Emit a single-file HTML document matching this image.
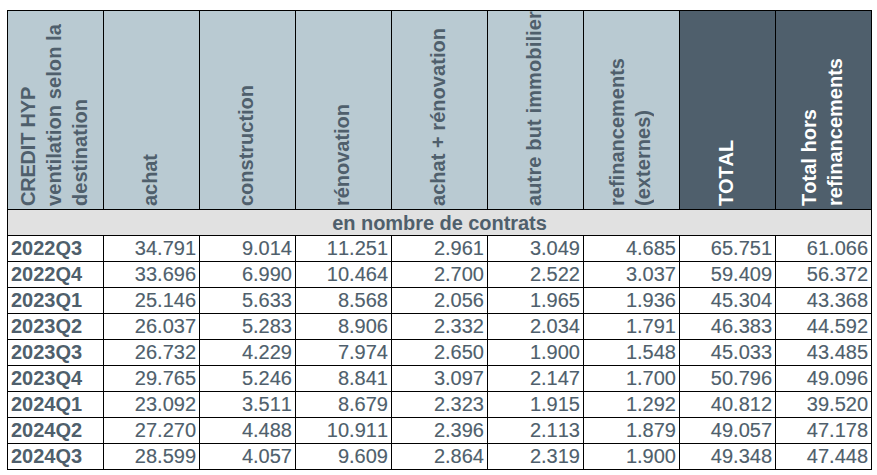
<!DOCTYPE html>
<html><head><meta charset="utf-8"><title>t</title>
<style>
html,body{margin:0;padding:0;background:#fff;}
body{width:877px;height:475px;position:relative;overflow:hidden;font-family:"Liberation Sans",sans-serif;font-size:20px;color:#4f5f6c;font-kerning:none;font-variant-ligatures:none;font-feature-settings:"kern" 0,"liga" 0;}
.c{position:absolute;box-sizing:border-box;border:1px solid #000;background:#fff;overflow:hidden;white-space:nowrap;}
.h{background:#b9cad2;display:flex;justify-content:center;align-items:flex-end;font-weight:bold;}
.h.d{background:#4f5f6c;color:#fff;}
.h span{display:block;writing-mode:vertical-rl;transform:rotate(180deg);line-height:26px;margin-bottom:3px;position:relative;left:-2px;}
i{font-style:normal;}
.s{background:#e1e1e1;font-weight:bold;text-align:center;line-height:26px;letter-spacing:-0.05px;}
.r{text-align:right;padding-right:3px;line-height:25px;-webkit-text-stroke:0.15px #4f5f6c;}
.l{text-align:left;padding-left:3px;line-height:25px;font-weight:bold;}
</style></head><body>
<div class="c h" style="left:7px;top:10px;width:97px;height:200px"><span><i style="letter-spacing:-0.212px">CREDIT HYP</i><br><i style="letter-spacing:0.098px">ventilation selon la</i><br><i style="letter-spacing:0.030px">destination</i></span></div>
<div class="c h" style="left:103px;top:10px;width:97px;height:200px"><span><i style="letter-spacing:-0.049px">achat</i></span></div>
<div class="c h" style="left:199px;top:10px;width:97px;height:200px"><span><i style="letter-spacing:-0.009px">construction</i></span></div>
<div class="c h" style="left:295px;top:10px;width:97px;height:200px"><span><i style="letter-spacing:-0.024px">rénovation</i></span></div>
<div class="c h" style="left:391px;top:10px;width:97px;height:200px"><span><i style="letter-spacing:0.040px">achat + rénovation</i></span></div>
<div class="c h" style="left:487px;top:10px;width:97px;height:200px"><span><i style="letter-spacing:0.138px">autre but immobilier</i></span></div>
<div class="c h" style="left:583px;top:10px;width:97px;height:200px"><span><i style="letter-spacing:0.012px">refinancements</i><br><i style="letter-spacing:0.040px">(externes)</i></span></div>
<div class="c h d" style="left:679px;top:10px;width:97px;height:200px"><span><i style="letter-spacing:-0.130px">TOTAL</i></span></div>
<div class="c h d" style="left:775px;top:10px;width:97px;height:200px"><span><i style="letter-spacing:0.033px">Total hors</i><br><i style="letter-spacing:0.012px">refinancements</i></span></div>
<div class="c s" style="left:7px;top:209px;width:865px;height:27px">en nombre de contrats</div>
<div class="c l" style="left:7px;top:235px;width:97px;height:27px">2022Q3</div>
<div class="c r" style="left:103px;top:235px;width:97px;height:27px">34.791</div>
<div class="c r" style="left:199px;top:235px;width:97px;height:27px">9.014</div>
<div class="c r" style="left:295px;top:235px;width:97px;height:27px">11.251</div>
<div class="c r" style="left:391px;top:235px;width:97px;height:27px">2.961</div>
<div class="c r" style="left:487px;top:235px;width:97px;height:27px">3.049</div>
<div class="c r" style="left:583px;top:235px;width:97px;height:27px">4.685</div>
<div class="c r" style="left:679px;top:235px;width:97px;height:27px">65.751</div>
<div class="c r" style="left:775px;top:235px;width:97px;height:27px">61.066</div>
<div class="c l" style="left:7px;top:261px;width:97px;height:27px">2022Q4</div>
<div class="c r" style="left:103px;top:261px;width:97px;height:27px">33.696</div>
<div class="c r" style="left:199px;top:261px;width:97px;height:27px">6.990</div>
<div class="c r" style="left:295px;top:261px;width:97px;height:27px">10.464</div>
<div class="c r" style="left:391px;top:261px;width:97px;height:27px">2.700</div>
<div class="c r" style="left:487px;top:261px;width:97px;height:27px">2.522</div>
<div class="c r" style="left:583px;top:261px;width:97px;height:27px">3.037</div>
<div class="c r" style="left:679px;top:261px;width:97px;height:27px">59.409</div>
<div class="c r" style="left:775px;top:261px;width:97px;height:27px">56.372</div>
<div class="c l" style="left:7px;top:287px;width:97px;height:27px">2023Q1</div>
<div class="c r" style="left:103px;top:287px;width:97px;height:27px">25.146</div>
<div class="c r" style="left:199px;top:287px;width:97px;height:27px">5.633</div>
<div class="c r" style="left:295px;top:287px;width:97px;height:27px">8.568</div>
<div class="c r" style="left:391px;top:287px;width:97px;height:27px">2.056</div>
<div class="c r" style="left:487px;top:287px;width:97px;height:27px">1.965</div>
<div class="c r" style="left:583px;top:287px;width:97px;height:27px">1.936</div>
<div class="c r" style="left:679px;top:287px;width:97px;height:27px">45.304</div>
<div class="c r" style="left:775px;top:287px;width:97px;height:27px">43.368</div>
<div class="c l" style="left:7px;top:313px;width:97px;height:27px">2023Q2</div>
<div class="c r" style="left:103px;top:313px;width:97px;height:27px">26.037</div>
<div class="c r" style="left:199px;top:313px;width:97px;height:27px">5.283</div>
<div class="c r" style="left:295px;top:313px;width:97px;height:27px">8.906</div>
<div class="c r" style="left:391px;top:313px;width:97px;height:27px">2.332</div>
<div class="c r" style="left:487px;top:313px;width:97px;height:27px">2.034</div>
<div class="c r" style="left:583px;top:313px;width:97px;height:27px">1.791</div>
<div class="c r" style="left:679px;top:313px;width:97px;height:27px">46.383</div>
<div class="c r" style="left:775px;top:313px;width:97px;height:27px">44.592</div>
<div class="c l" style="left:7px;top:339px;width:97px;height:27px">2023Q3</div>
<div class="c r" style="left:103px;top:339px;width:97px;height:27px">26.732</div>
<div class="c r" style="left:199px;top:339px;width:97px;height:27px">4.229</div>
<div class="c r" style="left:295px;top:339px;width:97px;height:27px">7.974</div>
<div class="c r" style="left:391px;top:339px;width:97px;height:27px">2.650</div>
<div class="c r" style="left:487px;top:339px;width:97px;height:27px">1.900</div>
<div class="c r" style="left:583px;top:339px;width:97px;height:27px">1.548</div>
<div class="c r" style="left:679px;top:339px;width:97px;height:27px">45.033</div>
<div class="c r" style="left:775px;top:339px;width:97px;height:27px">43.485</div>
<div class="c l" style="left:7px;top:365px;width:97px;height:27px">2023Q4</div>
<div class="c r" style="left:103px;top:365px;width:97px;height:27px">29.765</div>
<div class="c r" style="left:199px;top:365px;width:97px;height:27px">5.246</div>
<div class="c r" style="left:295px;top:365px;width:97px;height:27px">8.841</div>
<div class="c r" style="left:391px;top:365px;width:97px;height:27px">3.097</div>
<div class="c r" style="left:487px;top:365px;width:97px;height:27px">2.147</div>
<div class="c r" style="left:583px;top:365px;width:97px;height:27px">1.700</div>
<div class="c r" style="left:679px;top:365px;width:97px;height:27px">50.796</div>
<div class="c r" style="left:775px;top:365px;width:97px;height:27px">49.096</div>
<div class="c l" style="left:7px;top:391px;width:97px;height:27px">2024Q1</div>
<div class="c r" style="left:103px;top:391px;width:97px;height:27px">23.092</div>
<div class="c r" style="left:199px;top:391px;width:97px;height:27px">3.511</div>
<div class="c r" style="left:295px;top:391px;width:97px;height:27px">8.679</div>
<div class="c r" style="left:391px;top:391px;width:97px;height:27px">2.323</div>
<div class="c r" style="left:487px;top:391px;width:97px;height:27px">1.915</div>
<div class="c r" style="left:583px;top:391px;width:97px;height:27px">1.292</div>
<div class="c r" style="left:679px;top:391px;width:97px;height:27px">40.812</div>
<div class="c r" style="left:775px;top:391px;width:97px;height:27px">39.520</div>
<div class="c l" style="left:7px;top:417px;width:97px;height:27px">2024Q2</div>
<div class="c r" style="left:103px;top:417px;width:97px;height:27px">27.270</div>
<div class="c r" style="left:199px;top:417px;width:97px;height:27px">4.488</div>
<div class="c r" style="left:295px;top:417px;width:97px;height:27px">10.911</div>
<div class="c r" style="left:391px;top:417px;width:97px;height:27px">2.396</div>
<div class="c r" style="left:487px;top:417px;width:97px;height:27px">2.113</div>
<div class="c r" style="left:583px;top:417px;width:97px;height:27px">1.879</div>
<div class="c r" style="left:679px;top:417px;width:97px;height:27px">49.057</div>
<div class="c r" style="left:775px;top:417px;width:97px;height:27px">47.178</div>
<div class="c l" style="left:7px;top:443px;width:97px;height:27px">2024Q3</div>
<div class="c r" style="left:103px;top:443px;width:97px;height:27px">28.599</div>
<div class="c r" style="left:199px;top:443px;width:97px;height:27px">4.057</div>
<div class="c r" style="left:295px;top:443px;width:97px;height:27px">9.609</div>
<div class="c r" style="left:391px;top:443px;width:97px;height:27px">2.864</div>
<div class="c r" style="left:487px;top:443px;width:97px;height:27px">2.319</div>
<div class="c r" style="left:583px;top:443px;width:97px;height:27px">1.900</div>
<div class="c r" style="left:679px;top:443px;width:97px;height:27px">49.348</div>
<div class="c r" style="left:775px;top:443px;width:97px;height:27px">47.448</div>
</body></html>
